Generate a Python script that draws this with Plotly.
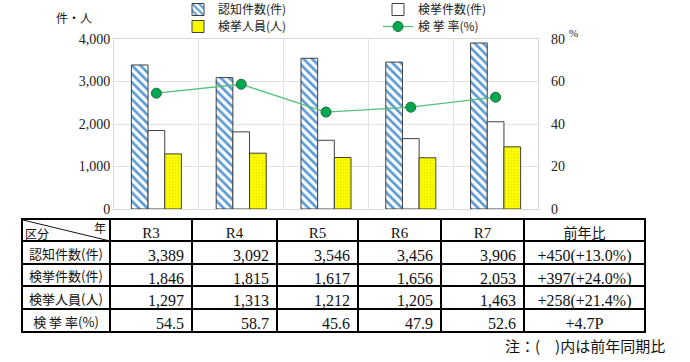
import plotly.graph_objects as go

# ---- data ----
years = ["R3", "R4", "R5", "R6", "R7"]
recognized = [3389, 3092, 3546, 3456, 3906]   # 認知件数(件)
cleared = [1846, 1815, 1617, 1656, 2053]      # 検挙件数(件)
arrested = [1297, 1313, 1212, 1205, 1463]     # 検挙人員(人)
rate = [54.5, 58.7, 45.6, 47.9, 52.6]         # 検挙率(%)
yoy = ["+450(+13.0%)", "+397(+24.0%)", "+258(+21.4%)", "+4.7P"]
row_labels = ["認知件数(件)", "検挙件数(件)", "検挙人員(人)", "検 挙 率(%)"]
left_ticks = [0, 1000, 2000, 3000, 4000]
right_ticks = [0, 20, 40, 60, 80]

W, H = 690, 362
def px(x):
    return x / W
def py(y):
    return 1 - y / H

SERIF = "Liberation Serif, Noto Sans CJK JP, serif"
CJK = "Noto Sans CJK JP, sans-serif"
EDGE = "#404040"

fig = go.Figure()

fig.add_trace(go.Bar(
    x=years, y=recognized, name=row_labels[0], legend="legend",
    marker=dict(color="white", line=dict(color=EDGE, width=1),
                pattern=dict(shape="\\", fgcolor="#5b9bd5", bgcolor="white",
                             size=6, solidity=0.45, fillmode="replace")),
))
fig.add_trace(go.Bar(
    x=years, y=cleared, name=row_labels[1], legend="legend2",
    marker=dict(color="white", line=dict(color=EDGE, width=1)),
))
fig.add_trace(go.Bar(
    x=years, y=arrested, name=row_labels[2], legend="legend3",
    marker=dict(color="#ffff00", line=dict(color=EDGE, width=1),
                pattern=dict(shape=".", fgcolor="#e8e800", bgcolor="#ffff00",
                             size=3, solidity=0.3, fillmode="replace")),
))
fig.add_trace(go.Scatter(
    x=years, y=rate, name=row_labels[3], yaxis="y2", legend="legend4",
    mode="lines+markers",
    line=dict(color="#55c07a", width=1.3),
    marker=dict(size=10, color="#00a84f", line=dict(color="#1e6e3a", width=1)),
))

def fmt(v):
    return f"{v:,}"

cell_values = [row_labels]
for i in range(len(years)):
    cell_values.append([fmt(recognized[i]), fmt(cleared[i]), fmt(arrested[i]), f"{rate[i]:.1f}"])
cell_values.append(yoy)

fig.add_trace(go.Table(
    domain=dict(x=[px(22), px(645)], y=[py(336), py(219)]),
    columnwidth=[88, 82, 85, 81, 83, 83, 121],
    header=dict(
        values=[""] + years + ["前年比"],
        height=22,
        align="center",
        line=dict(color="black", width=2),
        fill=dict(color="white"),
        font=dict(family=[CJK] + [SERIF] * 5 + [CJK], size=[13] + [15] * 5 + [14], color="#111"),
    ),
    cells=dict(
        values=cell_values,
        height=22.7,
        align=["center"] + ["right"] * 5 + ["center"],
        line=dict(color="black", width=2),
        fill=dict(color="white"),
        font=dict(family=[CJK] + [SERIF] * 6, size=[13] + [16] * 6, color="#111"),
    ),
))

def leg(x, y):
    return dict(x=px(x), y=py(y), xanchor="left", yanchor="top",
                bgcolor="rgba(0,0,0,0)", font=dict(family=CJK, size=12, color="#222"),
                itemwidth=30)

fig.update_layout(
    width=W, height=H,
    margin=dict(l=0, r=0, t=0, b=0, autoexpand=False),
    paper_bgcolor="white", plot_bgcolor="white",
    barmode="group", bargap=0.41, bargroupgap=0,
    font=dict(family=SERIF, color="#222"),
    xaxis=dict(
        domain=[px(114), px(538)], type="category",
        showticklabels=False, ticks="", tickson="boundaries",
        showgrid=True, gridcolor="#e3e3e3", gridwidth=1,
        showline=True, linecolor="#d9d9d9", linewidth=1, mirror=True,
        range=[-0.5, 4.5],
    ),
    yaxis=dict(
        domain=[py(209), py(39)], range=[0, 4000],
        tickvals=left_ticks, tickformat=",",
        showgrid=True, gridcolor="#e3e3e3", gridwidth=1, zeroline=False,
        showline=True, linecolor="#d9d9d9", mirror=True,
        ticklabelstandoff=0,
        tickfont=dict(family=SERIF, size=14, color="#222"),
    ),
    yaxis2=dict(
        overlaying="y", side="right", range=[0, 80], tickvals=right_ticks,
        showgrid=False, zeroline=False, showline=False,
        ticklabelstandoff=12,
        tickfont=dict(family=SERIF, size=14, color="#222"),
    ),
    legend=leg(178, -5),
    legend2=leg(378, -5),
    legend3=leg(178, 12),
    legend4=leg(378, 12),
    showlegend=True,
)

def ann(text, x, y, size, family=CJK, color="#111"):
    return dict(text=text, x=px(x), y=py(y), xref="paper", yref="paper",
                xanchor="center", yanchor="middle", showarrow=False,
                font=dict(family=family, size=size, color=color))

annotations = [
    ann("件・人", 74, 18, 12, color="#222"),
    ann("%", 573, 33, 11, family=SERIF, color="#222"),
    ann("年", 100, 227, 12),
    ann("区分", 37, 233, 12),
    ann("注：(　)内は前年同期比", 585, 345, 15),
]
fig.update_layout(annotations=annotations)

fig.add_shape(type="line", xref="paper", yref="paper",
              x0=px(23), y0=py(220), x1=px(110), y1=py(241),
              line=dict(color="#111", width=1))

fig.write_html("out.html", config={"displayModeBar": False},
               post_script="document.body.style.margin='0';")
